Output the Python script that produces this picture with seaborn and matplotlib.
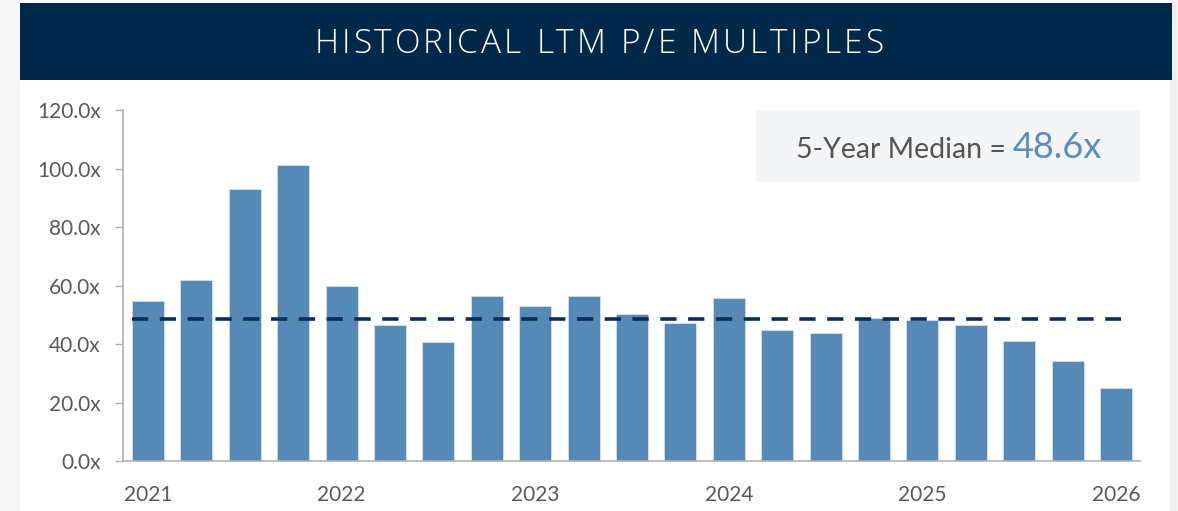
import matplotlib
matplotlib.use("Agg")
import matplotlib.pyplot as plt
import seaborn as sns
import pandas as pd
import numpy as np
from matplotlib.patches import Rectangle

quarters = [f"Q{i}" for i in range(21)]
pe_values = [54.7, 61.9, 93.0, 101.2, 59.8, 46.5, 40.7, 56.4, 53.0, 56.4, 50.3,
             47.2, 55.7, 44.8, 43.8, 48.9, 48.2, 46.5, 41.0, 34.2, 25.0]
year_labels = ["2021", "2022", "2023", "2024", "2025", "2026"]
year_positions = [0, 4, 8, 12, 16, 20]
median_value = 48.6
y_ticks = [0, 20, 40, 60, 80, 100, 120]
title = "HISTORICAL LTM P/E MULTIPLES"

df = pd.DataFrame({"quarter": quarters, "pe": pe_values})

sns.set_style("white")
plt.rcParams['font.family'] = ['Lato', 'DejaVu Sans']

fig = plt.figure(figsize=(11.78, 5.11), dpi=100)
W, H = 1178, 511

def fr(x0, y0, x1, y1, color, z=0):
    fig.patches.append(Rectangle((x0 / W, 1 - y1 / H), (x1 - x0) / W, (y1 - y0) / H,
                                 transform=fig.transFigure, facecolor=color,
                                 edgecolor='none', zorder=z))

fr(0, 0, 20, H, '#f6f6f7')
fr(1170, 0, W, H, '#f0f0f1')
fr(20, 3, 1172, 80, '#022849')

# title with letter spacing: place each character
renderer = fig.canvas.get_renderer()
tprops = dict(color='white', fontsize=24, family=['Open Sans', 'DejaVu Sans'],
              fontweight='light', va='center', ha='left')
chars = []
widths = []
for ch in title:
    t = fig.text(0, 0, ch if ch != " " else "\u00a0", **tprops)
    chars.append(t)
    widths.append(t.get_window_extent(renderer).width if ch != " " else 9)
spacing = 3.0
total = sum(widths) + spacing * (len(title) - 1)
x = (20 + 1172) / 2 - total / 2 + 3
for t, w in zip(chars, widths):
    t.set_position((x / W, 1 - 44 / H))
    x += w + spacing

ax = fig.add_axes([123 / W, 1 - 461 / H, (1140 - 123) / W, (461 - 110) / H])
sns.barplot(data=df, x="quarter", y="pe", color='#5689b5', width=0.66,
            saturation=1, edgecolor='#d5e2ee', linewidth=0.6, ax=ax, zorder=2)
ax.set_xlim(-0.517, 20.496)
ax.set_ylim(0, 120)
ax.plot([-0.33, 20.1], [median_value, median_value], color='#0b2d5b',
        linestyle=(0, (4.5, 3.2)), linewidth=2.6, zorder=3)

ax.set_yticks(y_ticks)
ax.set_yticklabels([f"{v:.1f}x" for v in y_ticks])
ax.set_xticks(year_positions)
ax.set_xticklabels(year_labels)
ax.set_xlabel("")
ax.set_ylabel("")
for s in ['top', 'right']:
    ax.spines[s].set_visible(False)
for s in ['left', 'bottom']:
    ax.spines[s].set_color('#b0b0b0')
    ax.spines[s].set_linewidth(1.2)
ax.tick_params(axis='y', length=6, width=1, color='#b0b0b0',
               labelsize=15, pad=10, left=True)
ax.tick_params(axis='x', length=0, labelsize=15, pad=17)
for lab in ax.get_yticklabels() + ax.get_xticklabels():
    lab.set_color('#595959')

fr(756, 110, 1140, 182, '#f4f5f7', z=1)
t1 = fig.text(796 / W, 1 - 150 / H, "5-Year Median = ", ha='left', va='center',
              color='#555555', fontsize=20.5)
fig.canvas.draw()
bb = t1.get_window_extent()
fig.text(bb.x1 / W, 1 - 148 / H, f"{median_value}x", ha='left', va='center',
         color='#5a8cbd', fontsize=26)

fig.savefig("out.png", dpi=100, facecolor='white')
